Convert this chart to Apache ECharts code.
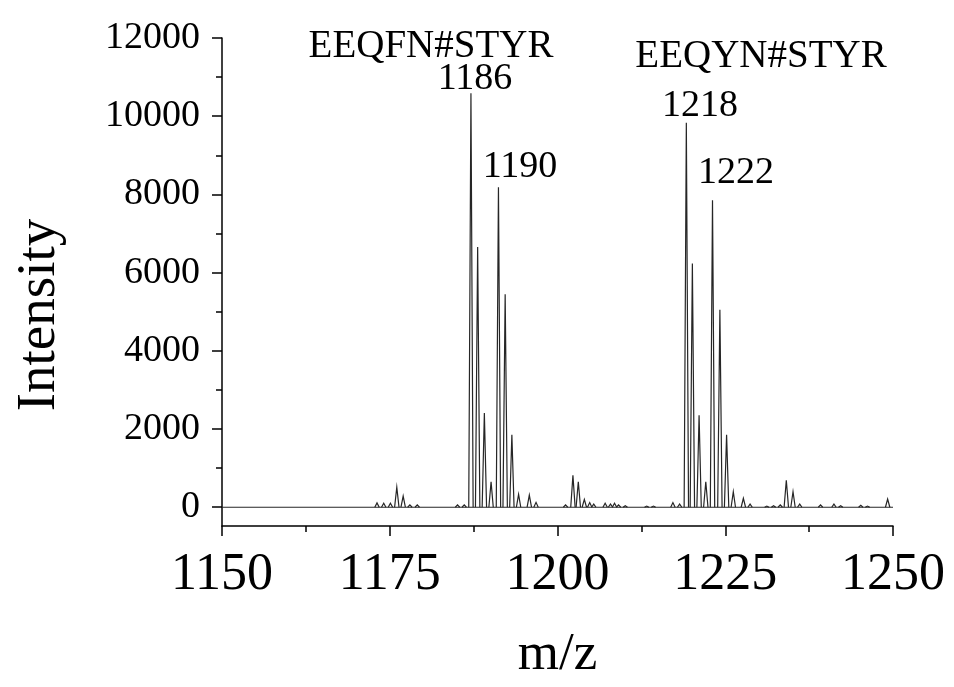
<!DOCTYPE html>
<html>
<head>
<meta charset="utf-8">
<script src="https://cdn.jsdelivr.net/npm/echarts@6/dist/echarts.min.js"></script>
<style>
  html, body { margin: 0; padding: 0; background: #fff; }
  #chart { width: 954px; height: 687px; }
</style>
</head>
<body>
<div id="chart"></div>
<script>
// peak positions (m/z) and intensities
const peakMz = [
  1173.1, 1174.1, 1175.1, 1176.05, 1177.0, 1178.0, 1179.1, 1185.1, 1186.1,
  1187.1, 1188.1, 1189.1, 1190.1, 1191.2, 1192.2, 1193.2, 1194.2, 1195.8, 1196.8,
  1201.2, 1202.3, 1203.1, 1204.0, 1204.8, 1205.4, 1207.1, 1207.9, 1208.5, 1209.1, 1210.1,
  1213.3, 1214.3, 1217.2, 1218.2,
  1219.2, 1220.1, 1221.1, 1222.1, 1223.1, 1224.2, 1225.2, 1226.2, 1227.7, 1228.7,
  1231.2, 1232.2, 1233.2, 1234.1, 1235.1, 1236.1, 1239.2, 1241.2, 1242.2, 1245.2, 1246.2, 1249.2
];
const peakIntensity = [
  110, 100, 100, 510, 285, 60, 60, 60, 60,
  10590, 6655, 2410, 650, 8185, 5445, 1850, 330, 310, 125,
  60, 815, 650, 200, 120, 80, 100, 80, 100, 60, 40,
  30, 30, 118, 80,
  9830, 6230, 2350, 650, 7850, 5050, 1850, 395, 227, 80,
  30, 40, 60, 690, 395, 80, 60, 80, 40, 50, 30, 210
];

const xRange = [1150, 1250];
const yRange = [-480, 12000];
const yMajorTicks = [0, 2000, 4000, 6000, 8000, 10000, 12000];
const yMinorTicks = [1000, 3000, 5000, 7000, 9000, 11000];

// peak annotations: text and where it sits
const annotations = [
  { text: 'EEQFN#STYR', x: 431, y: 47, size: 39 },
  { text: '1186', x: 475, y: 79, size: 38 },
  { text: '1190', x: 520, y: 167, size: 38 },
  { text: 'EEQYN#STYR', x: 761, y: 57, size: 39 },
  { text: '1218', x: 700, y: 106, size: 38 },
  { text: '1222', x: 736, y: 173, size: 38 }
];

const FONT = '"Liberation Serif", "Times New Roman", serif';
const LINE = '#262626';

const chart = echarts.init(document.getElementById('chart'));

const peaks = peakMz.map((m, i) => [m, peakIntensity[i]]);

chart.setOption({
  animation: false,
  backgroundColor: '#fff',
  grid: { left: 222, right: 61, top: 38, bottom: 154 },
  xAxis: {
    type: 'value',
    min: xRange[0],
    max: xRange[1],
    interval: 25,
    name: 'm/z',
    nameLocation: 'middle',
    nameGap: 103,
    nameTextStyle: { fontFamily: FONT, fontSize: 53, color: '#000' },
    axisLine: { onZero: false, lineStyle: { color: '#000', width: 1.5 } },
    axisTick: { length: 10, lineStyle: { color: '#000', width: 1.5 } },
    minorTick: { show: true, splitNumber: 2, length: 6, lineStyle: { color: '#000', width: 1.5 } },
    axisLabel: { fontFamily: FONT, fontSize: 52, color: '#000', margin: 23, formatter: v => String(v) },
    splitLine: { show: false }
  },
  yAxis: [
    {
      type: 'value',
      min: yRange[0],
      max: yRange[1],
      axisLine: { show: true, lineStyle: { color: '#000', width: 1.5 } },
      axisTick: { show: true, length: 10, customValues: yMajorTicks, lineStyle: { color: '#000', width: 1.5 } },
      axisLabel: { customValues: yMajorTicks, fontFamily: FONT, fontSize: 38, color: '#000', margin: 22, formatter: v => String(v) },
      splitLine: { show: false }
    },
    {
      // minor ticks only
      type: 'value',
      position: 'left',
      min: yRange[0],
      max: yRange[1],
      axisLine: { show: false },
      axisTick: { show: true, length: 6, customValues: yMinorTicks, lineStyle: { color: '#000', width: 1.5 } },
      axisLabel: { show: false },
      splitLine: { show: false }
    }
  ],
  graphic: [
    {
      type: 'text',
      x: 40, y: 315,
      rotation: Math.PI / 2,
      style: { text: 'Intensity', font: '55px ' + FONT, fill: '#000', textAlign: 'center', textVerticalAlign: 'middle' }
    }
  ].concat(annotations.map(a => ({
    type: 'text',
    x: a.x, y: a.y,
    style: { text: a.text, font: a.size + 'px ' + FONT, fill: '#000', textAlign: 'center', textVerticalAlign: 'middle' }
  }))),
  series: [
    {
      // baseline
      type: 'line',
      data: [[xRange[0], 0], [xRange[1], 0]],
      symbol: 'none',
      lineStyle: { color: LINE, width: 1.2 },
      silent: true
    },
    {
      type: 'custom',
      data: peaks,
      renderItem: function (params, api) {
        const top = api.coord([api.value(0), api.value(1)]);
        const base = api.coord([api.value(0), 0]);
        return {
          type: 'polyline',
          shape: { points: [[top[0] - 2.2, base[1]], top, [top[0] + 2.2, base[1]]] },
          style: { stroke: LINE, lineWidth: 1.2, fill: null }
        };
      },
      silent: true
    }
  ]
});
</script>
</body>
</html>
